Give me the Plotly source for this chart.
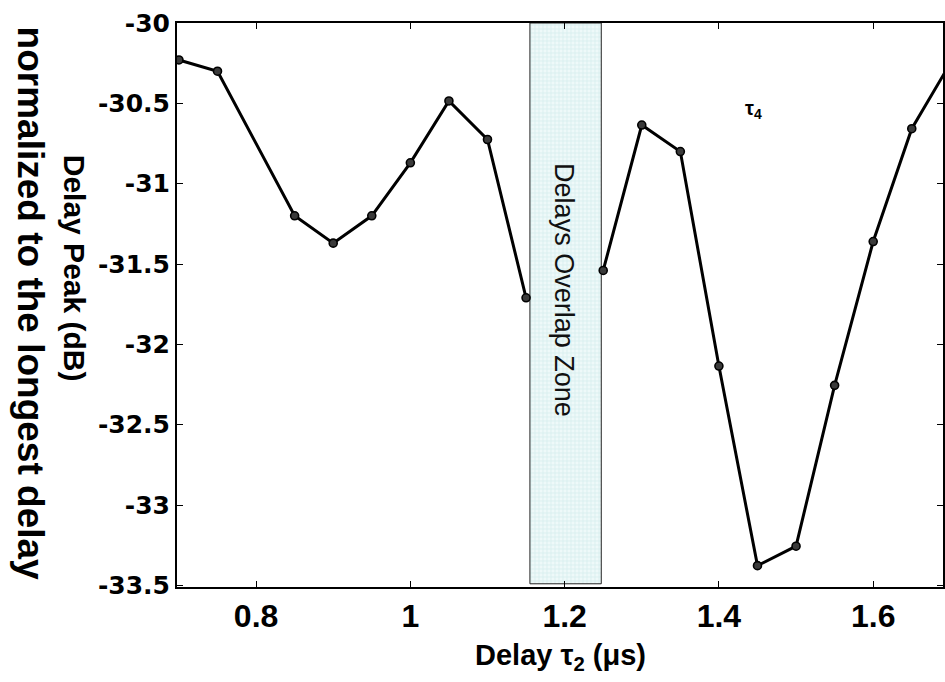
import plotly.graph_objects as go

# ---- data ----
x_left = [0.70, 0.75, 0.85, 0.90, 0.95, 1.00, 1.05, 1.10, 1.15]
y_left = [-30.23, -30.30, -31.20, -31.37, -31.20, -30.87, -30.485, -30.725, -31.71]
x_right = [1.25, 1.30, 1.35, 1.40, 1.45, 1.50, 1.55, 1.60, 1.65, 1.70]
y_right = [-31.54, -30.635, -30.80, -32.135, -33.377, -33.256, -32.255, -31.36, -30.658, -30.25]

zone_start, zone_end = 1.155, 1.2475
zone_bottom, zone_top = -33.49, -30.0

x_tick_vals = [0.8, 1.0, 1.2, 1.4, 1.6]
x_tick_text = ["0.8", "1", "1.2", "1.4", "1.6"]
y_tick_vals = [-33.5, -33.0, -32.5, -32.0, -31.5, -31.0, -30.5, -30.0]
y_tick_text = ["-33.5", "-33", "-32.5", "-32", "-31.5", "-31", "-30.5", "-30"]

FONT = "Liberation Sans, Arial, sans-serif"
WIDE = "DejaVu Sans, Liberation Sans, sans-serif"

fig = go.Figure()

# overlap zone (patterned fill)
fig.add_trace(go.Scatter(
    x=[zone_start, zone_end, zone_end, zone_start, zone_start],
    y=[zone_bottom, zone_bottom, zone_top, zone_top, zone_bottom],
    mode="lines", fill="toself",
    fillcolor="#e6f5f5",
    fillpattern=dict(shape="+", fgcolor="#b4dede", bgcolor="#eef9f9", size=4, solidity=0.3),
    line=dict(color="#222222", width=1),
    hoverinfo="skip", showlegend=False,
))

marker = dict(symbol="circle", size=8, color="#3a3a3a", line=dict(color="black", width=1.6))
for xs, ys in ((x_left, y_left), (x_right, y_right)):
    fig.add_trace(go.Scatter(
        x=xs, y=ys, mode="lines+markers",
        line=dict(color="black", width=3),
        marker=marker, showlegend=False,
    ))

fig.update_layout(
    width=945, height=682,
    margin=dict(l=177, r=0, t=23, b=95),
    paper_bgcolor="white", plot_bgcolor="white",
    font=dict(family=FONT, color="black"),
    showlegend=False,
)

fig.update_xaxes(
    range=[0.6975, 1.6905],
    tickmode="array", tickvals=x_tick_vals, ticktext=["<b>%s</b>" % t for t in x_tick_text],
    ticks="inside", ticklen=6, tickwidth=1, tickcolor="black",
    showline=True, linecolor="black", linewidth=2, mirror="ticks",
    showgrid=False, zeroline=False,
    tickfont=dict(size=32, family=FONT),
)
fig.update_yaxes(
    range=[-33.51, -30.0],
    tickmode="array", tickvals=y_tick_vals, ticktext=["<b>%s</b>" % t for t in y_tick_text],
    ticks="inside", ticklen=6, tickwidth=1, tickcolor="black",
    showline=True, linecolor="black", linewidth=2, mirror="ticks",
    showgrid=False, zeroline=False,
    tickfont=dict(size=25, family=WIDE),
)

# x-axis title
fig.add_annotation(
    xref="paper", yref="paper", x=0.5, y=-0.124,
    text="<b>Delay τ<sub>2</sub> (μs)</b>", showarrow=False,
    xanchor="center", yanchor="middle",
    font=dict(size=29, family=FONT, color="black"),
)

# y-axis title (rotated clockwise, two lines of different size)
fig.add_annotation(
    xref="paper", yref="paper", x=-(177 - 75) / 768, y=(587 - 268) / 564,
    text="<b>Delay Peak (dB)</b>",
    textangle=90, showarrow=False, xanchor="center", yanchor="middle",
    font=dict(size=30, family=FONT, color="black"),
)
fig.add_annotation(
    xref="paper", yref="paper", x=-(177 - 31) / 768, y=(587 - 303) / 564,
    text="<b>normalized to the longest delay</b>",
    textangle=90, showarrow=False, xanchor="center", yanchor="middle",
    font=dict(size=37, family=FONT, color="black"),
)

fig.add_annotation(
    x=1.2, y=-31.66, text="Delays Overlap Zone", textangle=90,
    showarrow=False, font=dict(size=27, family=FONT, color="#111111"),
)

fig.add_annotation(
    x=1.445, y=-30.54, text="<b>τ<sub>4</sub></b>", showarrow=False,
    font=dict(size=20, family=FONT, color="black"),
)

fig.write_html("out.html")
